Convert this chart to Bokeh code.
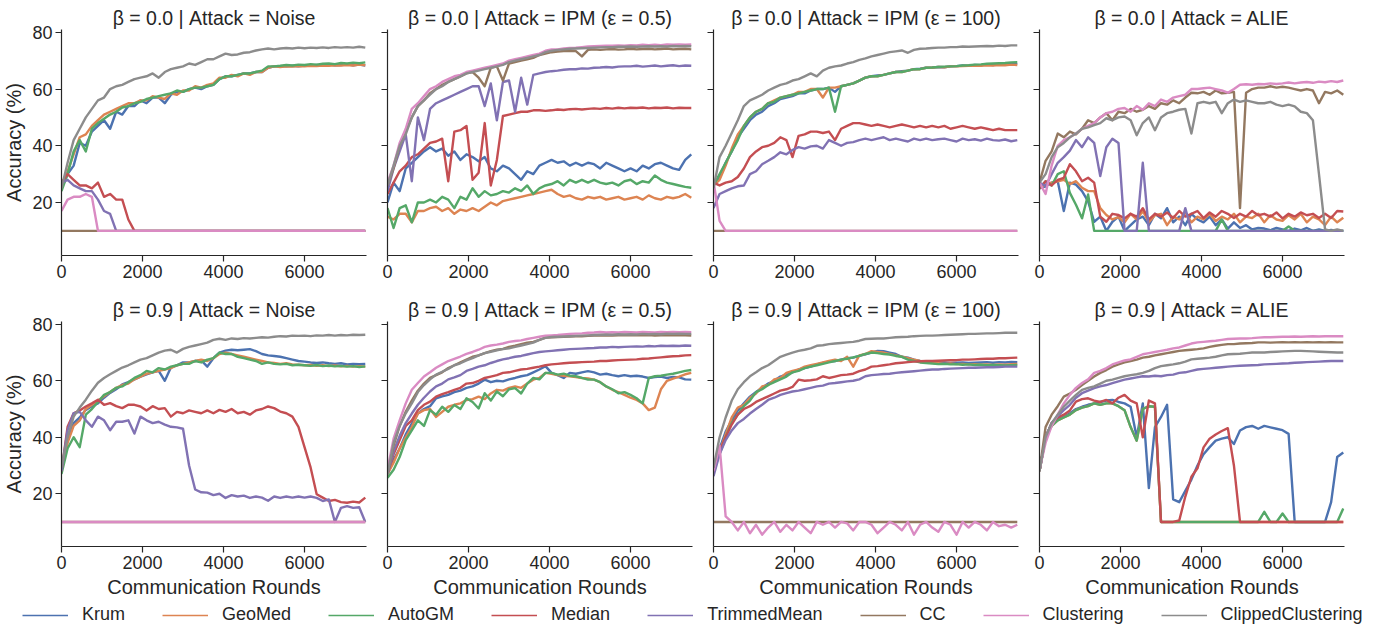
from bokeh.plotting import figure
from bokeh.layouts import column, row
from bokeh.models import FixedTicker, Range1d, Legend, LegendItem
from bokeh.embed import file_html
from bokeh.resources import INLINE

FONT = "Liberation Sans"
INK = "#262626"

ROUNDS = [0, 150, 300, 450, 600, 750, 900, 1050, 1200, 1350,
          1500, 1650, 1800, 1950, 2100, 2250, 2400, 2550, 2700, 2850,
          3000, 3150, 3300, 3450, 3600, 3750, 3900, 4050, 4200, 4350,
          4500, 4650, 4800, 4950, 5100, 5250, 5400, 5550, 5700, 5850,
          6000, 6150, 6300, 6450, 6600, 6750, 6900, 7050, 7200, 7350,
          7500]

METHODS = ["Krum", "GeoMed", "AutoGM", "Median", "TrimmedMean", "CC", "Clustering", "ClippedClustering"]
COLORS = ["#4C72B0", "#DD8452", "#55A868", "#C44E52", "#8172B3", "#937860", "#DA8BC3", "#8C8C8C"]
X_TICKS = [0, 2000, 4000, 6000]
Y_TICKS = [20, 40, 60, 80]

# ---------------- beta = 0.0 | Noise ----------------
b0_noise_krum = [25, 30, 33, 41, 40, 45, 47, 49, 46, 52,
                 51, 54, 54, 56, 55, 57, 57, 55, 58, 59,
                 59, 60, 60.5, 60, 61, 61.5, 63.5, 64.5, 64.5, 65,
                 65.5, 65.5, 66, 66, 67.5, 68, 68, 68, 68.2, 68,
                 68.3, 68.2, 68.5, 68.3, 68.6, 68.4, 68.5, 68.7, 68.4, 68.6,
                 68.3]
b0_noise_geomed = [25, 31, 37, 43, 44, 47, 49, 51, 52, 53,
                   54, 55, 55, 56, 56, 57.5, 57, 56.5, 58.5, 58,
                   59.5, 59.5, 61, 60.5, 61.5, 62, 64, 64, 65, 64.5,
                   65.5, 65, 66, 66, 67.5, 68, 67.8, 68, 67.9, 68.1,
                   68, 68.2, 68.1, 68.3, 68.2, 68.4, 68.3, 68.5, 68.3, 68.6,
                   68.4]
b0_noise_autogm = [24, 30, 38, 42, 38, 46, 48, 49.5, 51, 52,
                   53.5, 54, 55, 55.5, 56.5, 57, 57.5, 58, 58.5, 59.5,
                   59, 60, 60.5, 60.5, 61, 61.5, 63.5, 64.5, 64.5, 65,
                   65.5, 65.5, 66, 66.5, 68, 68, 68.2, 68.5, 68.3, 68.6,
                   68.5, 68.8, 68.6, 68.9, 69, 68.8, 69.2, 69, 69.3, 69.1,
                   69.4]
b0_noise_median = [27, 30, 28, 26, 26, 25, 27, 22, 23, 21,
                   21, 14, 10, 10, 10, 10, 10, 10, 10, 10,
                   10, 10, 10, 10, 10, 10, 10, 10, 10, 10,
                   10, 10, 10, 10, 10, 10, 10, 10, 10, 10,
                   10, 10, 10, 10, 10, 10, 10, 10, 10, 10,
                   10]
b0_noise_trimmed = [27, 28, 26, 25, 24, 24, 21, 17, 16, 10,
                    10, 10, 10, 10, 10, 10, 10, 10, 10, 10,
                    10, 10, 10, 10, 10, 10, 10, 10, 10, 10,
                    10, 10, 10, 10, 10, 10, 10, 10, 10, 10,
                    10, 10, 10, 10, 10, 10, 10, 10, 10, 10,
                    10]
b0_noise_cc = [10, 10, 10, 10, 10, 10, 10, 10, 10, 10,
               10, 10, 10, 10, 10, 10, 10, 10, 10, 10,
               10, 10, 10, 10, 10, 10, 10, 10, 10, 10,
               10, 10, 10, 10, 10, 10, 10, 10, 10, 10,
               10, 10, 10, 10, 10, 10, 10, 10, 10, 10,
               10]
b0_noise_clustering = [17, 21, 22, 22, 23, 22, 10, 10, 10, 10,
                       10, 10, 10, 10, 10, 10, 10, 10, 10, 10,
                       10, 10, 10, 10, 10, 10, 10, 10, 10, 10,
                       10, 10, 10, 10, 10, 10, 10, 10, 10, 10,
                       10, 10, 10, 10, 10, 10, 10, 10, 10, 10,
                       10]
b0_noise_clipped = [25, 34, 42, 46, 50, 53, 56, 57, 60, 61,
                    61.5, 62.5, 63.5, 64, 64.5, 65.5, 64, 66, 67, 67.5,
                    68, 69, 68.5, 69.5, 70.5, 70.5, 71.5, 72.5, 72, 72.2,
                    72.8, 73, 73.6, 74, 74.3, 74, 74.3, 74.5, 74.3, 74.6,
                    74.4, 74.6, 74.5, 74.7, 74.5, 74.8, 74.6, 74.8, 74.6, 74.9,
                    74.6]

# ---------------- beta = 0.0 | IPM eps=0.5 ----------------
b0_ipm05_krum = [20, 27, 24, 32, 34, 36, 38, 39.5, 38, 39,
                 36.5, 38, 35, 37, 36, 34.5, 36, 32, 31, 33,
                 32, 30, 28, 31, 30, 33, 34, 35, 34, 34.5,
                 33, 34, 33, 34, 33.5, 32, 34, 33, 32, 31,
                 32, 31, 33, 32, 33.5, 34, 33, 32, 31.5, 35,
                 37]
b0_ipm05_geomed = [15, 14, 16, 16, 13, 17, 17, 18, 18.5, 17,
                   18, 16, 17.5, 17, 18, 17, 18.5, 20, 19, 20.5,
                   21, 21.5, 22, 22.5, 23, 23.5, 24, 24.5, 23, 22,
                   22.5, 21.5, 21, 22, 21.5, 22, 21, 21.5, 22, 21,
                   21.5, 22, 21, 22.5, 21.5, 21, 22, 21.5, 22, 23,
                   21.7]
b0_ipm05_autogm = [18, 11, 18, 19, 13, 20, 20, 21, 20, 22,
                   21, 18, 22, 21, 25, 22, 24, 22.5, 23, 24,
                   23.5, 25, 24, 26, 23, 25, 26, 26.5, 27.5, 26,
                   28, 27, 28, 27, 28, 27, 26.5, 27, 26, 27.5,
                   28, 26.5, 27.5, 27, 29.5, 28, 27, 26.5, 26, 25.5,
                   25.2]
b0_ipm05_median = [23, 27, 31, 33, 36, 37, 39, 41, 41.5, 42.5,
                   27.5, 45, 45.5, 47, 28, 30.5, 48, 26, 35, 50.5,
                   51, 51.5, 52, 52, 52.5, 52.5, 52.3, 52.5, 52.8, 52.6,
                   52.9, 53, 52.8, 53, 53.2, 53, 53.3, 53.1, 53.4, 53.2,
                   53.4, 53.3, 53.5, 53.2, 53.4, 53.3, 53.5, 53.2, 53.4, 53.3,
                   53.3]
b0_ipm05_trimmed = [24, 32, 38, 44, 27.5, 50, 42, 53, 55, 56,
                    57, 58, 59, 60, 61, 61, 54, 62, 49, 62.5,
                    63, 52, 64, 54.5, 65, 65.5, 66, 66.3, 66.5, 66.8,
                    67, 67, 67.3, 67.2, 67.5, 67.6, 67.8, 67.6, 67.9, 68,
                    68, 68.2, 67.9, 68.1, 68.3, 68, 68.2, 68.4, 68.1, 68.3,
                    68.2]
b0_ipm05_cc = [26, 32, 40, 45, 50, 54, 56, 58.5, 60, 61.5,
               62.5, 63.5, 64.5, 65.5, 66, 64, 61, 67.5, 68, 63,
               69, 69.5, 70, 70.5, 71, 72, 72.5, 73, 73.2, 73.4,
               73.5, 73.4, 71.5, 73.8, 74, 73.8, 74, 74.1, 73.9, 74,
               74.2, 74, 74.1, 74.2, 74, 74.1, 74.3, 74, 74.1, 74.2,
               74]
b0_ipm05_clustering = [27, 33, 41, 46, 53, 55, 57.5, 60, 61, 62.5,
                       63.5, 64.5, 65, 66, 66.5, 67, 67.5, 68, 68.5, 69,
                       70, 70.5, 71, 71.5, 72, 72.5, 73.5, 74, 74, 74.3,
                       74.5, 74.6, 74.8, 75, 75.1, 75.2, 75.3, 75.3, 75.4, 75.3,
                       75.5, 75.4, 75.6, 75.5, 75.6, 75.5, 75.7, 75.6, 75.7, 75.6,
                       75.7]
b0_ipm05_clipped = [26, 33, 40, 44, 50, 54, 56, 58, 60, 61,
                    62.5, 63.5, 64.5, 65.5, 66, 66.5, 67, 67.5, 68, 68.5,
                    69.5, 70, 70.5, 71, 71.5, 72, 73, 73.5, 73.8, 74,
                    74.2, 74.3, 74.4, 74.5, 74.6, 74.7, 74.8, 74.8, 74.9, 74.9,
                    75, 74.9, 75, 75.1, 75, 75.1, 75, 75.2, 75.1, 75.2,
                    75.1]

# ---------------- beta = 0.0 | IPM eps=100 ----------------
b0_ipm100_krum = [26, 29, 34, 38, 43, 46, 49, 51, 52, 54,
                  55, 56.5, 57, 57.5, 58.5, 58.5, 59.5, 60, 60, 60.5,
                  59, 61, 61.5, 62, 63, 64, 64.5, 64.8, 65, 65.5,
                  66, 66.3, 66.5, 67, 67.2, 67.5, 67.6, 67.8, 67.7, 68,
                  68.1, 68.3, 68.2, 68.5, 68.4, 68.7, 68.5, 68.9, 68.7, 69,
                  68.8]
b0_ipm100_geomed = [26, 28, 33, 39, 44, 47, 50, 52, 53, 55,
                    56, 57, 57.5, 58, 59, 59, 60, 60, 57, 60.5,
                    60.5, 61, 61.5, 62, 63, 64, 64.5, 64.5, 65, 65.5,
                    66, 66, 66.5, 67, 67, 67.5, 67.5, 67.8, 67.7, 68,
                    68, 68.1, 68.2, 68.3, 68.2, 68.4, 68.3, 68.5, 68.4, 68.6,
                    68.5]
b0_ipm100_autogm = [26, 30, 34, 38, 42, 47, 50, 52, 53, 55,
                    55.5, 57, 57.5, 58, 58.5, 59, 59.5, 60, 60, 60.5,
                    52, 61, 61.5, 62, 63, 64, 64.5, 64.5, 65, 65.5,
                    66, 66, 66.5, 67, 67, 67.5, 67.6, 67.8, 67.9, 68,
                    68.1, 68.3, 68.4, 68.6, 68.7, 68.9, 69, 69.1, 69.2, 69.4,
                    69.5]
b0_ipm100_median = [27, 26, 27, 27.5, 29, 32, 36, 38, 39.5, 40,
                    41, 43, 42, 36, 43.5, 44, 45, 45, 44.5, 45,
                    42, 46, 47, 48, 48, 47.5, 47, 47.5, 47, 46.5,
                    47, 47.5, 47, 46.5, 47, 46.5, 47, 46.5, 47, 46,
                    46.5, 47, 46.5, 46, 46.5, 46, 45.5, 46, 45.5, 45.5,
                    45.5]
b0_ipm100_trimmed = [18, 23, 24, 25, 25.7, 26, 30, 31, 33.5, 34.7,
                     36, 37.7, 37, 38.5, 39.5, 39, 39.8, 40, 39, 42,
                     41, 40, 41, 41.3, 42, 42.5, 42, 42.5, 43, 42,
                     42.5, 42, 41.5, 42.5, 42, 42.5, 42, 42.3, 42.5, 42,
                     41.5, 42.5, 42, 42.3, 41.8, 42.5, 42, 41.8, 42.2, 41.6,
                     42]
b0_ipm100_cc = [10, 10, 10, 10, 10, 10, 10, 10, 10, 10,
                10, 10, 10, 10, 10, 10, 10, 10, 10, 10,
                10, 10, 10, 10, 10, 10, 10, 10, 10, 10,
                10, 10, 10, 10, 10, 10, 10, 10, 10, 10,
                10, 10, 10, 10, 10, 10, 10, 10, 10, 10,
                10]
b0_ipm100_clustering = [27.5, 13.5, 10, 10, 10, 10, 10, 10, 10, 10,
                        10, 10, 10, 10, 10, 10, 10, 10, 10, 10,
                        10, 10, 10, 10, 10, 10, 10, 10, 10, 10,
                        10, 10, 10, 10, 10, 10, 10, 10, 10, 10,
                        10, 10, 10, 10, 10, 10, 10, 10, 10, 10,
                        10]
b0_ipm100_clipped = [25, 36, 40, 44.5, 49, 54, 56, 57, 58, 59.5,
                     60.5, 61.5, 62, 63, 63.5, 64.5, 65.5, 64.5, 66.5, 67.5,
                     68, 68.3, 69, 69.5, 70.3, 70.8, 71.5, 72, 72.5, 73,
                     73.3, 73.6, 72.8, 73.8, 74.2, 74.3, 74.5, 74.6, 74.6, 74.8,
                     74.8, 75, 74.9, 75, 75.1, 75.2, 75.1, 75.3, 75.2, 75.4,
                     75.4]

# ---------------- beta = 0.0 | ALIE ----------------
b0_alie_krum = [25, 25.7, 27, 27.5, 17, 27, 26.3, 24, 20.4, 13.2,
                15, 10, 13.2, 15, 10, 12, 14, 15, 12, 16,
                14.4, 18, 13, 15, 12, 16, 14, 13, 15, 12,
                14, 10.8, 13, 11, 12, 10.5, 11, 10.8, 10.2, 11,
                10.5, 10, 10.8, 10.2, 11, 10, 10.5, 10, 10.3, 10,
                10]
b0_alie_geomed = [25, 26.3, 27, 27.5, 28, 26.5, 27.5, 25.2, 24, 24,
                  18, 15.6, 14, 14.8, 13, 16, 14, 17, 13, 15.5,
                  16, 12, 15, 14, 16.5, 13, 15, 14, 16, 13.5,
                  15, 14, 16, 13, 15, 14.5, 16, 13, 15.5, 14,
                  13.5, 15.5, 14, 16, 13, 15, 14, 12, 15, 13,
                  14.6]
b0_alie_autogm = [25, 27.5, 26, 30, 31, 23.4, 19.2, 14.4, 22.8, 10,
                  10, 10, 10, 10, 10, 10, 10, 10, 10, 10,
                  10, 10, 10, 10, 10, 10, 10, 10, 10, 10,
                  14, 10, 10, 10, 10, 10, 10, 10, 10, 10,
                  10, 11.5, 10, 10, 10, 10, 10, 10, 10, 10,
                  10]
b0_alie_median = [25, 27.5, 26, 28, 28.7, 33.5, 31, 27.5, 28.7, 27,
                  15, 13.2, 16, 15.6, 14.4, 16, 15, 18, 14, 16,
                  15, 16.5, 14.5, 17, 15, 16, 17, 14.5, 16.5, 15,
                  17, 16, 14.5, 16, 15, 17, 15.5, 16, 15, 16.5,
                  14.4, 16, 15, 16.5, 15.5, 16, 14.5, 16, 14.5, 17,
                  16.8]
b0_alie_trimmed = [27, 25.7, 30, 34, 36, 38.3, 42, 39.5, 43, 41,
                   29.3, 39.5, 42.5, 41, 10, 10, 10, 34, 10, 10,
                   10, 10, 10, 10, 18, 10, 10, 10, 10, 10,
                   10, 10, 10, 10, 10, 10, 10, 10, 10, 10,
                   10, 10, 10, 10, 10, 10, 10, 10, 10, 10,
                   10]
b0_alie_cc = [27, 34.7, 38, 44.3, 43, 45, 44, 46, 49, 48,
              50, 51.5, 49, 52, 51.5, 53, 52, 52.7, 54, 53,
              55, 54.5, 56, 55, 57, 58.7, 58.5, 59, 58, 59.5,
              58.5, 58.7, 59, 18, 58.7, 60, 60.5, 60.5, 61, 60.5,
              60.8, 60.5, 60, 59.5, 60, 59.5, 55, 59, 58.5, 59.5,
              58]
b0_alie_clustering = [27, 23, 33, 40, 42, 43, 44.3, 46, 47, 48,
                      50, 51.5, 52, 53, 53.3, 52, 54, 52.7, 55, 54,
                      56.3, 55.5, 57, 57.5, 58, 60, 60, 60.3, 60.5, 60,
                      59.5, 58.7, 60, 61.5, 61.7, 61.5, 61.8, 61.7, 62, 61.8,
                      62, 62.3, 62, 62.3, 62.5, 62.2, 62.6, 62.4, 62.8, 62.5,
                      63]
b0_alie_clipped = [27, 30, 36, 39.5, 41, 43, 44.3, 46, 46.5, 47.3,
                   48, 49.7, 49, 50, 50.3, 49, 43.7, 48, 50, 45.5,
                   50, 51.5, 52, 52.7, 53, 44.3, 55, 55.5, 55, 55.5,
                   51.5, 55, 56.3, 55.5, 56, 55.5, 55, 55, 55.5, 54.5,
                   54, 54.5, 53.9, 52, 51.5, 49, 30, 10.5, 10, 10.5,
                   10]

# ---------------- beta = 0.9 | Noise ----------------
b9_noise_krum = [28, 39, 45, 47, 49.7, 51, 52, 54, 55.7, 57,
                 58.7, 59.5, 60.5, 61.5, 62.3, 63, 63.5, 60, 64.7, 65.5,
                 66.5, 66.5, 67, 67.2, 65, 68, 70, 70.7, 71, 70.8,
                 71, 71.2, 70.5, 69.5, 69, 68.8, 68.5, 68, 67.5, 67,
                 66.8, 66.5, 66.3, 66.5, 66.2, 66, 66.2, 65.8, 66, 65.9,
                 66]
b9_noise_geomed = [28, 38, 44, 46, 50, 51.5, 53, 54.5, 56, 57.5,
                   58.5, 59, 60.5, 61.5, 62.5, 63, 63.5, 64, 64.5, 65.5,
                   66, 66.5, 67, 67.5, 67, 68, 69.5, 70, 69.5, 69,
                   68.5, 68, 67.5, 67, 66.5, 66.3, 66, 66.2, 65.8, 65.7,
                   65.5, 65.6, 65.3, 65.5, 65.2, 65.4, 65.1, 65.3, 65, 65.2,
                   65]
b9_noise_autogm = [27, 36, 40, 36.5, 48, 50, 52.5, 55, 56, 57.5,
                   58, 59.5, 61, 62, 63.5, 63, 64.5, 64, 65, 65.5,
                   66, 66, 67, 66.5, 67.5, 68, 70, 69.5, 69.5, 68.5,
                   68, 67.5, 67, 66, 66.5, 66, 65.8, 66, 65.5, 65.7,
                   65.5, 65.3, 65.6, 65.2, 65.4, 65.1, 65.3, 65, 65.2, 64.9,
                   65.1]
b9_noise_median = [28, 43.7, 48.5, 49.5, 50.9, 52, 53.3, 51.5, 52.1, 51,
                   50.3, 51.5, 51.5, 50.9, 49.5, 51, 50, 50.3, 47.3, 49,
                   48.5, 49.5, 49, 48.5, 49.5, 48.5, 49.7, 49, 50, 48.5,
                   49, 48, 49.5, 50, 50.9, 50.3, 49.1, 48.5, 47.3, 43.7,
                   36.5, 29.3, 19.8, 18.6, 17.4, 17.8, 17, 16.8, 17.2, 16.9,
                   18.6]
b9_noise_trimmed = [28, 42.5, 48.5, 49, 46, 43.7, 47.3, 46, 42.5, 45.5,
                    45.5, 46, 41.3, 47.3, 46, 45, 45.5, 44.5, 43.7, 43.5,
                    43, 30, 21.5, 20.5, 20.4, 19.5, 20, 18.5, 19.5, 19,
                    19.3, 18.5, 19, 18.6, 17.5, 19, 18.5, 19, 18.6, 19,
                    18.6, 19, 18.5, 17.4, 18, 10, 15, 15.6, 15, 15.2,
                    10]
b9_noise_cc = [10, 10, 10, 10, 10, 10, 10, 10, 10, 10,
               10, 10, 10, 10, 10, 10, 10, 10, 10, 10,
               10, 10, 10, 10, 10, 10, 10, 10, 10, 10,
               10, 10, 10, 10, 10, 10, 10, 10, 10, 10,
               10, 10, 10, 10, 10, 10, 10, 10, 10, 10,
               10]
b9_noise_clustering = [10, 10, 10, 10, 10, 10, 10, 10, 10, 10,
                       10, 10, 10, 10, 10, 10, 10, 10, 10, 10,
                       10, 10, 10, 10, 10, 10, 10, 10, 10, 10,
                       10, 10, 10, 10, 10, 10, 10, 10, 10, 10,
                       10, 10, 10, 10, 10, 10, 10, 10, 10, 10,
                       10]
b9_noise_clipped = [29.3, 40, 47.3, 50.5, 53.3, 56.5, 59.3, 61, 62.3, 63.5,
                    64.7, 65.5, 66.5, 67.5, 68, 69, 70, 70.7, 71, 70,
                    71.3, 72, 72.5, 73, 73.5, 74.5, 74.9, 74.5, 75, 74.8,
                    75.1, 75, 75.2, 75.4, 75.3, 75.6, 75.8, 75.7, 76, 75.9,
                    76, 75.8, 76.1, 76, 76.2, 76, 76.2, 76.1, 76.3, 76.2,
                    76.3]

# ---------------- beta = 0.9 | IPM eps=0.5 ----------------
b9_ipm05_krum = [27, 32, 36, 41, 44.8, 48.4, 50, 51, 53.8, 54.5,
                 55, 56, 56.5, 57.5, 58, 59, 60.4, 59.5, 60, 59.8,
                 60.5, 61, 61.6, 62, 63, 64, 65.2, 62.8, 62, 61,
                 62.8, 62.5, 63, 63.4, 63, 62.2, 62.5, 62, 61.6, 62,
                 61.6, 61.8, 61.5, 61, 61.3, 61.5, 61, 61.4, 61.2, 60.5,
                 60.4]
b9_ipm05_geomed = [27, 31, 36, 40, 43.6, 48.4, 49.6, 50, 47.2, 49,
                   50.8, 51.5, 52, 53.2, 53.5, 54.4, 53.5, 55.5, 56.8, 56.5,
                   57.5, 58, 57.5, 59, 60.4, 61, 62.8, 62.5, 62, 61.8,
                   61.6, 61.3, 61, 60.8, 60.4, 59.5, 58, 56.8, 56, 55,
                   54, 53.2, 52, 49.6, 50.5, 57, 60, 60.8, 61.5, 62.3,
                   62.8]
b9_ipm05_autogm = [25.6, 28.5, 33, 39, 42.4, 46, 44, 49.6, 48, 50.8,
                   49, 51.4, 50, 53.8, 52.5, 50.2, 55.6, 53, 56.2, 54.5,
                   57, 57.4, 55.5, 59, 61, 60.5, 62.8, 62.8, 62.2, 62.5,
                   61.8, 61.6, 61, 60.4, 60.4, 59.5, 58, 57, 55.6, 56,
                   55, 53.8, 52, 61, 61.6, 61.8, 62.2, 62.5, 63, 63.5,
                   63.8]
b9_ipm05_median = [27, 34, 39, 44, 46, 49.6, 51.5, 52.6, 54.4, 55.3,
                   56, 56.8, 57.5, 59, 59.2, 60, 61, 61.5, 62, 62.8,
                   63, 63.5, 64, 64.2, 64.6, 65, 65.5, 65.8, 66, 66.2,
                   66.4, 66.5, 66.6, 66.7, 66.8, 67, 67, 67.2, 67.3, 67.4,
                   67.5, 67.6, 67.8, 67.9, 68.1, 68.3, 68.5, 68.7, 68.8, 69,
                   69.1]
b9_ipm05_trimmed = [27, 35, 40.5, 45, 48.4, 51.5, 54, 56.2, 58, 59,
                    60.5, 61.2, 62, 63.5, 64.2, 65, 65.5, 66.3, 67, 67.6,
                    68, 68.5, 68.8, 69.3, 69.8, 70.2, 70.4, 70.6, 70.8, 71,
                    71.2, 71.3, 71.4, 71.5, 71.6, 71.8, 71.8, 72, 71.9, 72,
                    72.1, 72.2, 72.1, 72.3, 72.2, 72.4, 72.3, 72.4, 72.3, 72.5,
                    72.4]
b9_ipm05_cc = [27, 37, 44, 49, 53, 56.5, 59, 61, 62, 63,
               64.5, 65.5, 66.5, 67.5, 68.5, 69, 69.8, 70.5, 71, 71.3,
               72, 72.4, 73, 73.5, 73.8, 74.5, 75.3, 75.4, 75.5, 75.6,
               75.7, 75.8, 75.8, 75.9, 76, 76, 76.1, 76, 76.1, 76.2,
               76.1, 76.2, 76.1, 76.2, 76, 76.1, 76.2, 76.1, 76.2, 76.1,
               76]
b9_ipm05_clustering = [28.6, 39.5, 46, 52, 56.8, 59.2, 61.5, 63, 64.6, 65.8,
                       67, 67.8, 68.6, 69.5, 70.2, 71, 72, 72.5, 72.8, 73.2,
                       73.8, 74.1, 74.3, 74.8, 75.2, 75.6, 76, 76.1, 76.2, 76.4,
                       76.6, 76.7, 76.8, 77, 77.1, 77.3, 77.1, 77.2, 77.1, 77.3,
                       77.2, 77.1, 77.3, 77.2, 77.1, 77.3, 77.2, 77.3, 77.2, 77.3,
                       77.2]
b9_ipm05_clipped = [27, 38, 44, 48.5, 52, 56, 58.5, 60.5, 62.2, 63.2,
                    64.2, 65.5, 66.2, 67.2, 68, 69, 69.8, 70.3, 70.8, 71.2,
                    71.5, 72, 72.5, 73, 73.5, 74.5, 75.2, 75.5, 75.6, 75.7,
                    75.8, 75.9, 76, 76.1, 76.2, 76.3, 76.4, 76.3, 76.5, 76.4,
                    76.5, 76.4, 76.6, 76.5, 76.6, 76.5, 76.7, 76.6, 76.7, 76.6,
                    76.6]

# ---------------- beta = 0.9 | IPM eps=100 ----------------
b9_ipm100_krum = [28, 36, 42, 46, 49.5, 52, 54.4, 56, 57.5, 59,
                  60, 61.5, 62.2, 63, 64, 64.5, 65, 65.8, 66.3, 66.8,
                  67, 67.5, 68, 68.2, 68.8, 69.4, 70, 70.6, 70.5, 70,
                  69.5, 68.5, 68.2, 67.5, 67, 66.8, 66.5, 66.4, 66.5, 66.3,
                  66.4, 66.5, 66.3, 66.4, 66.5, 66.6, 66.4, 66.6, 66.5, 66.7,
                  66.6]
b9_ipm100_geomed = [28, 35, 41, 47, 50.5, 51.5, 54, 55.5, 58, 58.5,
                    60.5, 61, 62.8, 63.5, 64, 65, 65.5, 66, 66.5, 67,
                    67.5, 67, 68.5, 65, 69, 69.5, 70.5, 70.2, 70, 69.5,
                    69, 68.5, 68, 67.5, 67, 66.6, 66.4, 66.2, 66, 66.1,
                    65.9, 66, 65.8, 65.9, 65.7, 65.8, 65.6, 65.8, 65.7, 65.9,
                    66]
b9_ipm100_autogm = [28, 34, 40, 45, 48, 51, 53, 56, 57, 58.5,
                    59.5, 60.5, 61.5, 63, 63.5, 64.5, 65, 65.5, 66, 66.5,
                    67, 67.5, 67.8, 68.3, 68.8, 69.5, 70, 69.8, 69.5, 69.3,
                    68.8, 68.5, 67.5, 67, 66.5, 66.3, 66.1, 65.9, 66, 65.8,
                    65.9, 65.7, 65.8, 65.6, 65.7, 65.5, 65.6, 65.5, 65.4, 65.5,
                    65.6]
b9_ipm100_median = [28, 35, 40, 44.5, 48, 50, 51, 52.5, 53.5, 54.5,
                    55.5, 56.5, 57, 57.8, 60.4, 60, 60.2, 60.5, 61.6, 61,
                    61.5, 62, 62.2, 62.5, 63.4, 64, 65, 65.2, 65.5, 65.8,
                    66.2, 66.4, 66.6, 66.8, 66.9, 67, 67, 67.1, 67.2, 67.3,
                    67.3, 67.5, 67.5, 67.6, 67.7, 67.8, 67.8, 68, 68, 68.1,
                    68.2]
b9_ipm100_trimmed = [26.2, 34, 39, 42.4, 45, 46.5, 48.4, 50, 51.5, 53.2,
                     54, 55, 55.6, 56.2, 56.5, 57, 57.5, 58, 58.3, 59,
                     59.2, 59.5, 59.8, 60, 60.5, 61.6, 62, 62.2, 62.4, 62.5,
                     62.8, 63, 63.2, 63.4, 63.6, 63.8, 64, 64, 64.2, 64.3,
                     64.4, 64.5, 64.6, 64.6, 64.7, 64.8, 64.8, 64.9, 65, 65,
                     65]
b9_ipm100_cc = [10, 10, 10, 10, 10, 10, 10, 10, 10, 10,
                10, 10, 10, 10, 10, 10, 10, 10, 10, 10,
                10, 10, 10, 10, 10, 10, 10, 10, 10, 10,
                10, 10, 10, 10, 10, 10, 10, 10, 10, 10,
                10, 10, 10, 10, 10, 10, 10, 10, 10, 10,
                10]
b9_ipm100_clustering = [28, 37, 12, 10, 7, 10, 6, 9, 5.5, 8,
                        10, 6.5, 9, 7, 10, 8, 6, 10, 9, 10,
                        8, 10, 9.5, 7, 10, 10, 9, 6, 8, 10,
                        9, 7, 10, 5.5, 9, 10, 8, 6.5, 10, 9,
                        5.5, 10, 8, 10, 9, 7, 10, 8.5, 9, 8,
                        9]
b9_ipm100_clipped = [29.2, 40, 47, 53, 57, 59.5, 61.6, 63, 64.5, 65.5,
                     67, 68.5, 69.3, 70, 70.6, 71, 71.5, 72.4, 72.6, 73,
                     73.2, 73.4, 73.6, 73.8, 74.2, 74.8, 74.9, 75, 75, 75.2,
                     75.4, 75.5, 75.6, 75.8, 75.9, 76, 76, 76.1, 76.2, 76.3,
                     76.4, 76.5, 76.6, 76.6, 76.7, 76.8, 76.8, 76.9, 77, 77,
                     77]

# ---------------- beta = 0.9 | ALIE ----------------
b9_alie_krum = [28, 40, 45, 46.5, 47.2, 48.5, 50, 50.8, 51.5, 52,
                52.5, 53, 53.2, 52.5, 52, 50.8, 40, 52, 22, 43.6,
                47.2, 51.5, 18, 17, 21, 25, 30, 34, 36.5, 38.8,
                39.5, 40, 37.6, 42.4, 43.6, 44, 43, 44, 43.5, 43,
                42.5, 41.2, 10, 10, 10, 10, 10, 10, 17, 33,
                34.6]
b9_alie_geomed = [28, 40, 44, 46, 47, 48, 49.6, 50.5, 51, 52,
                  51.5, 52, 52, 51, 49.6, 43.6, 38.8, 50, 51, 50.8,
                  10, 10, 10, 10, 10, 10, 10, 10, 10, 10,
                  10, 10, 10, 10, 10, 10, 10, 10, 10, 10,
                  10, 10, 10, 10, 10, 10, 10, 10, 10, 10,
                  10]
b9_alie_autogm = [28, 40, 44, 46, 47, 48, 49.6, 50.5, 51, 52,
                  51.5, 52, 52, 51, 49.6, 43.6, 38.8, 50, 51, 50.8,
                  10, 10, 10, 10, 10, 10, 10, 10, 10, 10,
                  10, 10, 10, 10, 10, 10, 10, 13.6, 10, 10,
                  13, 10, 10, 10, 10, 10, 10, 10, 10, 10,
                  14.8]
b9_alie_median = [28, 40, 45, 47, 48, 49.5, 52.6, 53.5, 53.8, 53,
                  52.5, 53.2, 52, 54, 55, 53, 52, 40, 53, 52,
                  10, 10, 10, 10.5, 19, 26, 29, 36.4, 39.5, 41,
                  42.2, 43.2, 30, 10, 10, 10, 10, 10, 10, 10,
                  10, 10, 10, 10, 10, 10, 10, 10, 10, 10,
                  10]
b9_alie_trimmed = [28, 40, 45, 47.5, 49.6, 51.5, 54, 55.6, 56.5, 57.4,
                   58, 58.5, 59.2, 59.8, 60.4, 60.8, 61.2, 61.6, 61.5, 61.8,
                   61.6, 62, 62.2, 62.8, 63, 63.5, 64, 64.2, 64.4, 64.6,
                   64.8, 65, 65.2, 65.3, 65.4, 65.5, 65.6, 65.8, 65.9, 66,
                   66.1, 66.2, 66.4, 66.5, 66.6, 66.7, 66.8, 66.9, 67, 67,
                   67]
b9_alie_cc = [28, 43.6, 48, 51, 54.4, 55.5, 56.8, 58.5, 60, 61.5,
              62.8, 63.8, 65, 65.8, 66.5, 67, 67.5, 68.2, 68.5, 69,
              69.4, 69.8, 70.2, 70.6, 70.8, 71, 71.2, 71.5, 72, 72.4,
              72.7, 73, 73, 73.2, 73.3, 73.4, 73.6, 73.6, 73.5, 73.6,
              73.7, 73.6, 73.7, 73.6, 73.7, 73.6, 73.7, 73.6, 73.7, 73.6,
              73.6]
b9_alie_clustering = [28.6, 38, 44, 48, 52, 55, 57.5, 59.2, 60.5, 62.8,
                      63.5, 64.5, 65.8, 66.5, 67.2, 67.6, 68.5, 69.4, 69.8, 70.2,
                      70.6, 71, 71.5, 71.8, 72.5, 73.2, 73.6, 73.8, 74, 74.2,
                      74.5, 74.8, 74.9, 75, 75, 75.1, 75.3, 75.4, 75.4, 75.5,
                      75.6, 75.6, 75.7, 75.6, 75.7, 75.8, 75.7, 75.8, 75.8, 75.8,
                      75.8]
b9_alie_clipped = [28, 40, 45, 48, 50.8, 53, 55, 56.8, 57.5, 58,
                   59, 60, 60.4, 61, 61.6, 62, 62.3, 62.8, 63.5, 64.5,
                   65.2, 65.5, 65.8, 66.2, 66.8, 67.6, 67.8, 68, 68.2, 68.5,
                   69, 69.4, 69.5, 69.6, 69.8, 70, 70, 70, 70.2, 70.3,
                   70.4, 70.5, 70.6, 70.6, 70.5, 70.4, 70.3, 70.2, 70.1, 70,
                   70]

PANELS = [
    ("β = 0.0 | Attack = Noise",
     [b0_noise_krum, b0_noise_geomed, b0_noise_autogm, b0_noise_median,
      b0_noise_trimmed, b0_noise_cc, b0_noise_clustering, b0_noise_clipped]),
    ("β = 0.0 | Attack = IPM (ε = 0.5)",
     [b0_ipm05_krum, b0_ipm05_geomed, b0_ipm05_autogm, b0_ipm05_median,
      b0_ipm05_trimmed, b0_ipm05_cc, b0_ipm05_clustering, b0_ipm05_clipped]),
    ("β = 0.0 | Attack = IPM (ε = 100)",
     [b0_ipm100_krum, b0_ipm100_geomed, b0_ipm100_autogm, b0_ipm100_median,
      b0_ipm100_trimmed, b0_ipm100_cc, b0_ipm100_clustering, b0_ipm100_clipped]),
    ("β = 0.0 | Attack = ALIE",
     [b0_alie_krum, b0_alie_geomed, b0_alie_autogm, b0_alie_median,
      b0_alie_trimmed, b0_alie_cc, b0_alie_clustering, b0_alie_clipped]),
    ("β = 0.9 | Attack = Noise",
     [b9_noise_krum, b9_noise_geomed, b9_noise_autogm, b9_noise_median,
      b9_noise_trimmed, b9_noise_cc, b9_noise_clustering, b9_noise_clipped]),
    ("β = 0.9 | Attack = IPM (ε = 0.5)",
     [b9_ipm05_krum, b9_ipm05_geomed, b9_ipm05_autogm, b9_ipm05_median,
      b9_ipm05_trimmed, b9_ipm05_cc, b9_ipm05_clustering, b9_ipm05_clipped]),
    ("β = 0.9 | Attack = IPM (ε = 100)",
     [b9_ipm100_krum, b9_ipm100_geomed, b9_ipm100_autogm, b9_ipm100_median,
      b9_ipm100_trimmed, b9_ipm100_cc, b9_ipm100_clustering, b9_ipm100_clipped]),
    ("β = 0.9 | Attack = ALIE",
     [b9_alie_krum, b9_alie_geomed, b9_alie_autogm, b9_alie_median,
      b9_alie_trimmed, b9_alie_cc, b9_alie_clustering, b9_alie_clipped]),
]


def make_panel(title, series, col, rw):
    left = 61 if col == 0 else 16
    right = 5
    top = 29 if rw == 0 else 24
    bottom = 41 if rw == 0 else 54
    fw, fh = 305, 226
    p = figure(width=left + fw + right, height=top + fh + bottom,
               x_range=Range1d(0, 7530), y_range=Range1d(1.3, 81),
               output_backend="svg", toolbar_location=None, tools="",
               min_border_left=left, min_border_right=right,
               min_border_top=top, min_border_bottom=bottom)
    p.title.text = title
    p.title.align = "center"
    p.title.text_font = FONT
    p.title.text_font_size = "19.5px"
    p.title.text_font_style = "normal"
    p.title.text_color = INK
    p.title.standoff = 1
    p.outline_line_color = None
    p.grid.visible = False
    p.background_fill_color = "white"
    p.border_fill_color = "white"
    for name, color, ys in zip(METHODS, COLORS, series):
        p.line(ROUNDS, ys, line_color=color, line_width=2.4, line_join="round")
    p.xaxis.ticker = FixedTicker(ticks=X_TICKS)
    p.yaxis.ticker = FixedTicker(ticks=Y_TICKS)
    for ax in (p.xaxis[0], p.yaxis[0]):
        ax.minor_tick_line_color = None
        ax.major_tick_out = 6
        ax.major_tick_in = 0
        ax.major_tick_line_color = INK
        ax.major_tick_line_width = 1.2
        ax.axis_line_color = INK
        ax.axis_line_width = 1.2
        ax.major_label_text_font = FONT
        ax.major_label_text_font_size = "18px"
        ax.major_label_text_color = INK
        ax.major_label_standoff = 3
        ax.axis_label_text_font = FONT
        ax.axis_label_text_font_size = "20px"
        ax.axis_label_text_font_style = "normal"
        ax.axis_label_text_color = INK
        ax.axis_label_standoff = 4
    if col == 0:
        p.yaxis.axis_label = "Accuracy (%)"
    else:
        p.yaxis.major_label_text_font_size = "0px"
        p.yaxis.major_label_text_color = None
    if rw == 1:
        p.xaxis.axis_label = "Communication Rounds"
    return p


rows = []
for rw in range(2):
    figs = []
    for col in range(4):
        title, series = PANELS[rw * 4 + col]
        figs.append(make_panel(title, series, col, rw))
    rows.append(row(*figs))

# Legend strip: its renderers reuse the first panel's series but sit outside the
# visible range, so only the legend swatches are drawn.
leg = figure(width=1362, height=25, x_range=Range1d(-3, -2), y_range=Range1d(-3, -2),
             output_backend="svg", toolbar_location=None, tools="",
             x_axis_type=None, y_axis_type=None, min_border=0)
leg.outline_line_color = None
leg.grid.visible = False
items = []
for name, color, ys in zip(METHODS, COLORS, PANELS[0][1]):
    r = leg.line(ROUNDS, ys, line_color=color, line_width=1.6)
    items.append(LegendItem(label=name, renderers=[r]))
legend = Legend(items=items, orientation="horizontal", location=(22, 0),
                spacing=37, glyph_width=46, glyph_height=20, label_standoff=14,
                label_height=20, padding=0, margin=0,
                border_line_color=None, background_fill_alpha=0,
                label_text_font=FONT, label_text_font_size="18px",
                label_text_color=INK)
leg.add_layout(legend, "center")

layout = column(rows[0], rows[1], leg)
open("out.html", "w").write(file_html(layout, INLINE))
